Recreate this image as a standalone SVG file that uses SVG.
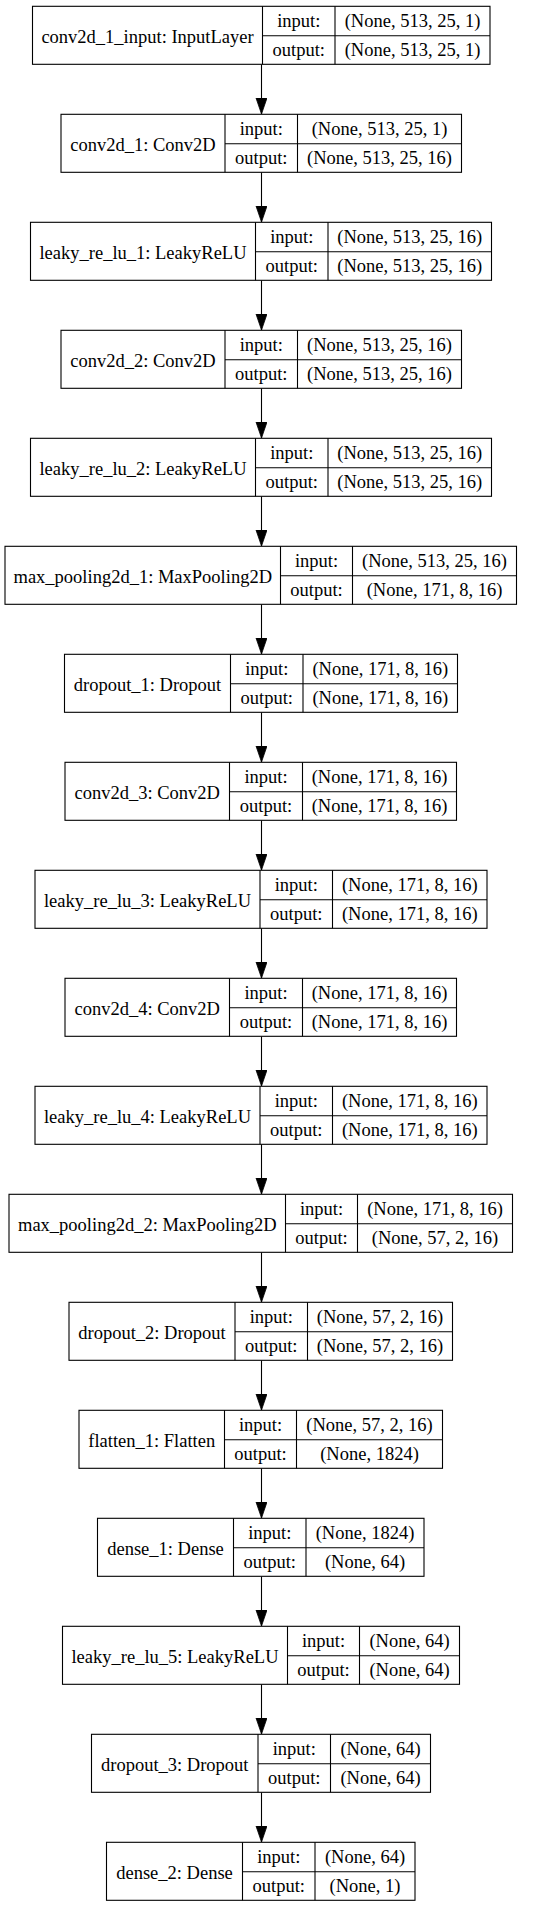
<svg xmlns="http://www.w3.org/2000/svg" width="535" height="1907" viewBox="0 0 535 1907">
<style>
.b{fill:#fff;stroke:#000;stroke-width:1.1}
.d{stroke:#000;stroke-width:1.1}
text{font-family:"Liberation Serif","Times New Roman",serif;font-size:18.5px;fill:#000;text-anchor:middle}
.e{stroke:#000;stroke-width:1.1;fill:none}
</style>
<defs>
<marker id="ah" markerUnits="userSpaceOnUse" markerWidth="17" markerHeight="12" refX="16" refY="5.5" orient="auto">
<path d="M0,0 L16,5.5 L0,11 z" fill="#000" stroke="#000" stroke-width="0.8"/>
</marker>
</defs>
<rect width="535" height="1907" fill="#fff"/>
<g id="connectors">
<line class="e" x1="261.5" y1="64.3" x2="261.5" y2="114" marker-end="url(#ah)"/>
<line class="e" x1="261.5" y1="172.3" x2="261.5" y2="222" marker-end="url(#ah)"/>
<line class="e" x1="261.5" y1="280.3" x2="261.5" y2="330" marker-end="url(#ah)"/>
<line class="e" x1="261.5" y1="388.3" x2="261.5" y2="438" marker-end="url(#ah)"/>
<line class="e" x1="261.5" y1="496.3" x2="261.5" y2="546" marker-end="url(#ah)"/>
<line class="e" x1="261.5" y1="604.3" x2="261.5" y2="654" marker-end="url(#ah)"/>
<line class="e" x1="261.5" y1="712.3" x2="261.5" y2="762" marker-end="url(#ah)"/>
<line class="e" x1="261.5" y1="820.3" x2="261.5" y2="870" marker-end="url(#ah)"/>
<line class="e" x1="261.5" y1="928.3" x2="261.5" y2="978" marker-end="url(#ah)"/>
<line class="e" x1="261.5" y1="1036.3" x2="261.5" y2="1086" marker-end="url(#ah)"/>
<line class="e" x1="261.5" y1="1144.3" x2="261.5" y2="1194" marker-end="url(#ah)"/>
<line class="e" x1="261.5" y1="1252.3" x2="261.5" y2="1302" marker-end="url(#ah)"/>
<line class="e" x1="261.5" y1="1360.3" x2="261.5" y2="1410" marker-end="url(#ah)"/>
<line class="e" x1="261.5" y1="1468.3" x2="261.5" y2="1518" marker-end="url(#ah)"/>
<line class="e" x1="261.5" y1="1576.3" x2="261.5" y2="1626" marker-end="url(#ah)"/>
<line class="e" x1="261.5" y1="1684.3" x2="261.5" y2="1734" marker-end="url(#ah)"/>
<line class="e" x1="261.5" y1="1792.3" x2="261.5" y2="1842" marker-end="url(#ah)"/>
</g>
<g id="n1" transform="translate(0,6)">
<rect class="b" x="32.5" y="0.3" width="457.5" height="58"/><line class="d" x1="262.5" y1="0.3" x2="262.5" y2="58.3"/><line class="d" x1="335" y1="0.3" x2="335" y2="58.3"/><line class="d" x1="262.5" y1="29.8" x2="490" y2="29.8"/>
<text x="147.5" y="36.5">conv2d_1_input: InputLayer</text><text x="298.75" y="20.5">input:</text><text x="298.75" y="50">output:</text><text x="412.5" y="20.5">(None, 513, 25, 1)</text><text x="412.5" y="50">(None, 513, 25, 1)</text>
</g>
<g id="n2" transform="translate(0,114)">
<rect class="b" x="61" y="0.3" width="400.5" height="58"/><line class="d" x1="225" y1="0.3" x2="225" y2="58.3"/><line class="d" x1="297.5" y1="0.3" x2="297.5" y2="58.3"/><line class="d" x1="225" y1="29.8" x2="461.5" y2="29.8"/>
<text x="143" y="36.5">conv2d_1: Conv2D</text><text x="261.25" y="20.5">input:</text><text x="261.25" y="50">output:</text><text x="379.5" y="20.5">(None, 513, 25, 1)</text><text x="379.5" y="50">(None, 513, 25, 16)</text>
</g>
<g id="n3" transform="translate(0,222)">
<rect class="b" x="30.5" y="0.3" width="461" height="58"/><line class="d" x1="255.5" y1="0.3" x2="255.5" y2="58.3"/><line class="d" x1="328" y1="0.3" x2="328" y2="58.3"/><line class="d" x1="255.5" y1="29.8" x2="491.5" y2="29.8"/>
<text x="143" y="36.5">leaky_re_lu_1: LeakyReLU</text><text x="291.75" y="20.5">input:</text><text x="291.75" y="50">output:</text><text x="409.75" y="20.5">(None, 513, 25, 16)</text><text x="409.75" y="50">(None, 513, 25, 16)</text>
</g>
<g id="n4" transform="translate(0,330)">
<rect class="b" x="61" y="0.3" width="400.5" height="58"/><line class="d" x1="225" y1="0.3" x2="225" y2="58.3"/><line class="d" x1="297.5" y1="0.3" x2="297.5" y2="58.3"/><line class="d" x1="225" y1="29.8" x2="461.5" y2="29.8"/>
<text x="143" y="36.5">conv2d_2: Conv2D</text><text x="261.25" y="20.5">input:</text><text x="261.25" y="50">output:</text><text x="379.5" y="20.5">(None, 513, 25, 16)</text><text x="379.5" y="50">(None, 513, 25, 16)</text>
</g>
<g id="n5" transform="translate(0,438)">
<rect class="b" x="30.5" y="0.3" width="461" height="58"/><line class="d" x1="255.5" y1="0.3" x2="255.5" y2="58.3"/><line class="d" x1="328" y1="0.3" x2="328" y2="58.3"/><line class="d" x1="255.5" y1="29.8" x2="491.5" y2="29.8"/>
<text x="143" y="36.5">leaky_re_lu_2: LeakyReLU</text><text x="291.75" y="20.5">input:</text><text x="291.75" y="50">output:</text><text x="409.75" y="20.5">(None, 513, 25, 16)</text><text x="409.75" y="50">(None, 513, 25, 16)</text>
</g>
<g id="n6" transform="translate(0,546)">
<rect class="b" x="5" y="0.3" width="511.5" height="58"/><line class="d" x1="280.5" y1="0.3" x2="280.5" y2="58.3"/><line class="d" x1="352.5" y1="0.3" x2="352.5" y2="58.3"/><line class="d" x1="280.5" y1="29.8" x2="516.5" y2="29.8"/>
<text x="142.75" y="36.5">max_pooling2d_1: MaxPooling2D</text><text x="316.5" y="20.5">input:</text><text x="316.5" y="50">output:</text><text x="434.5" y="20.5">(None, 513, 25, 16)</text><text x="434.5" y="50">(None, 171, 8, 16)</text>
</g>
<g id="n7" transform="translate(0,654)">
<rect class="b" x="64.5" y="0.3" width="393" height="58"/><line class="d" x1="230.5" y1="0.3" x2="230.5" y2="58.3"/><line class="d" x1="303" y1="0.3" x2="303" y2="58.3"/><line class="d" x1="230.5" y1="29.8" x2="457.5" y2="29.8"/>
<text x="147.5" y="36.5">dropout_1: Dropout</text><text x="266.75" y="20.5">input:</text><text x="266.75" y="50">output:</text><text x="380.25" y="20.5">(None, 171, 8, 16)</text><text x="380.25" y="50">(None, 171, 8, 16)</text>
</g>
<g id="n8" transform="translate(0,762)">
<rect class="b" x="65" y="0.3" width="391.5" height="58"/><line class="d" x1="229.5" y1="0.3" x2="229.5" y2="58.3"/><line class="d" x1="302.5" y1="0.3" x2="302.5" y2="58.3"/><line class="d" x1="229.5" y1="29.8" x2="456.5" y2="29.8"/>
<text x="147.25" y="36.5">conv2d_3: Conv2D</text><text x="266" y="20.5">input:</text><text x="266" y="50">output:</text><text x="379.5" y="20.5">(None, 171, 8, 16)</text><text x="379.5" y="50">(None, 171, 8, 16)</text>
</g>
<g id="n9" transform="translate(0,870)">
<rect class="b" x="35" y="0.3" width="452" height="58"/><line class="d" x1="260" y1="0.3" x2="260" y2="58.3"/><line class="d" x1="332.5" y1="0.3" x2="332.5" y2="58.3"/><line class="d" x1="260" y1="29.8" x2="487" y2="29.8"/>
<text x="147.5" y="36.5">leaky_re_lu_3: LeakyReLU</text><text x="296.25" y="20.5">input:</text><text x="296.25" y="50">output:</text><text x="409.75" y="20.5">(None, 171, 8, 16)</text><text x="409.75" y="50">(None, 171, 8, 16)</text>
</g>
<g id="n10" transform="translate(0,978)">
<rect class="b" x="65" y="0.3" width="391.5" height="58"/><line class="d" x1="229.5" y1="0.3" x2="229.5" y2="58.3"/><line class="d" x1="302.5" y1="0.3" x2="302.5" y2="58.3"/><line class="d" x1="229.5" y1="29.8" x2="456.5" y2="29.8"/>
<text x="147.25" y="36.5">conv2d_4: Conv2D</text><text x="266" y="20.5">input:</text><text x="266" y="50">output:</text><text x="379.5" y="20.5">(None, 171, 8, 16)</text><text x="379.5" y="50">(None, 171, 8, 16)</text>
</g>
<g id="n11" transform="translate(0,1086)">
<rect class="b" x="35" y="0.3" width="452" height="58"/><line class="d" x1="260" y1="0.3" x2="260" y2="58.3"/><line class="d" x1="332.5" y1="0.3" x2="332.5" y2="58.3"/><line class="d" x1="260" y1="29.8" x2="487" y2="29.8"/>
<text x="147.5" y="36.5">leaky_re_lu_4: LeakyReLU</text><text x="296.25" y="20.5">input:</text><text x="296.25" y="50">output:</text><text x="409.75" y="20.5">(None, 171, 8, 16)</text><text x="409.75" y="50">(None, 171, 8, 16)</text>
</g>
<g id="n12" transform="translate(0,1194)">
<rect class="b" x="9" y="0.3" width="503.5" height="58"/><line class="d" x1="285.5" y1="0.3" x2="285.5" y2="58.3"/><line class="d" x1="357.5" y1="0.3" x2="357.5" y2="58.3"/><line class="d" x1="285.5" y1="29.8" x2="512.5" y2="29.8"/>
<text x="147.25" y="36.5">max_pooling2d_2: MaxPooling2D</text><text x="321.5" y="20.5">input:</text><text x="321.5" y="50">output:</text><text x="435" y="20.5">(None, 171, 8, 16)</text><text x="435" y="50">(None, 57, 2, 16)</text>
</g>
<g id="n13" transform="translate(0,1302)">
<rect class="b" x="69" y="0.3" width="383.5" height="58"/><line class="d" x1="235" y1="0.3" x2="235" y2="58.3"/><line class="d" x1="307.5" y1="0.3" x2="307.5" y2="58.3"/><line class="d" x1="235" y1="29.8" x2="452.5" y2="29.8"/>
<text x="152" y="36.5">dropout_2: Dropout</text><text x="271.25" y="20.5">input:</text><text x="271.25" y="50">output:</text><text x="380" y="20.5">(None, 57, 2, 16)</text><text x="380" y="50">(None, 57, 2, 16)</text>
</g>
<g id="n14" transform="translate(0,1410)">
<rect class="b" x="79" y="0.3" width="363.5" height="58"/><line class="d" x1="224.5" y1="0.3" x2="224.5" y2="58.3"/><line class="d" x1="296.5" y1="0.3" x2="296.5" y2="58.3"/><line class="d" x1="224.5" y1="29.8" x2="442.5" y2="29.8"/>
<text x="151.75" y="36.5">flatten_1: Flatten</text><text x="260.5" y="20.5">input:</text><text x="260.5" y="50">output:</text><text x="369.5" y="20.5">(None, 57, 2, 16)</text><text x="369.5" y="50">(None, 1824)</text>
</g>
<g id="n15" transform="translate(0,1518)">
<rect class="b" x="97.5" y="0.3" width="326.5" height="58"/><line class="d" x1="233.5" y1="0.3" x2="233.5" y2="58.3"/><line class="d" x1="306" y1="0.3" x2="306" y2="58.3"/><line class="d" x1="233.5" y1="29.8" x2="424" y2="29.8"/>
<text x="165.5" y="36.5">dense_1: Dense</text><text x="269.75" y="20.5">input:</text><text x="269.75" y="50">output:</text><text x="365" y="20.5">(None, 1824)</text><text x="365" y="50">(None, 64)</text>
</g>
<g id="n16" transform="translate(0,1626)">
<rect class="b" x="62.5" y="0.3" width="397" height="58"/><line class="d" x1="287.5" y1="0.3" x2="287.5" y2="58.3"/><line class="d" x1="359.5" y1="0.3" x2="359.5" y2="58.3"/><line class="d" x1="287.5" y1="29.8" x2="459.5" y2="29.8"/>
<text x="175" y="36.5">leaky_re_lu_5: LeakyReLU</text><text x="323.5" y="20.5">input:</text><text x="323.5" y="50">output:</text><text x="409.5" y="20.5">(None, 64)</text><text x="409.5" y="50">(None, 64)</text>
</g>
<g id="n17" transform="translate(0,1734)">
<rect class="b" x="91.5" y="0.3" width="339" height="58"/><line class="d" x1="258" y1="0.3" x2="258" y2="58.3"/><line class="d" x1="330.5" y1="0.3" x2="330.5" y2="58.3"/><line class="d" x1="258" y1="29.8" x2="430.5" y2="29.8"/>
<text x="174.75" y="36.5">dropout_3: Dropout</text><text x="294.25" y="20.5">input:</text><text x="294.25" y="50">output:</text><text x="380.5" y="20.5">(None, 64)</text><text x="380.5" y="50">(None, 64)</text>
</g>
<g id="n18" transform="translate(0,1842)">
<rect class="b" x="106.5" y="0.3" width="308.5" height="58"/><line class="d" x1="242.5" y1="0.3" x2="242.5" y2="58.3"/><line class="d" x1="315" y1="0.3" x2="315" y2="58.3"/><line class="d" x1="242.5" y1="29.8" x2="415" y2="29.8"/>
<text x="174.5" y="36.5">dense_2: Dense</text><text x="278.75" y="20.5">input:</text><text x="278.75" y="50">output:</text><text x="365" y="20.5">(None, 64)</text><text x="365" y="50">(None, 1)</text>
</g>
</svg>
